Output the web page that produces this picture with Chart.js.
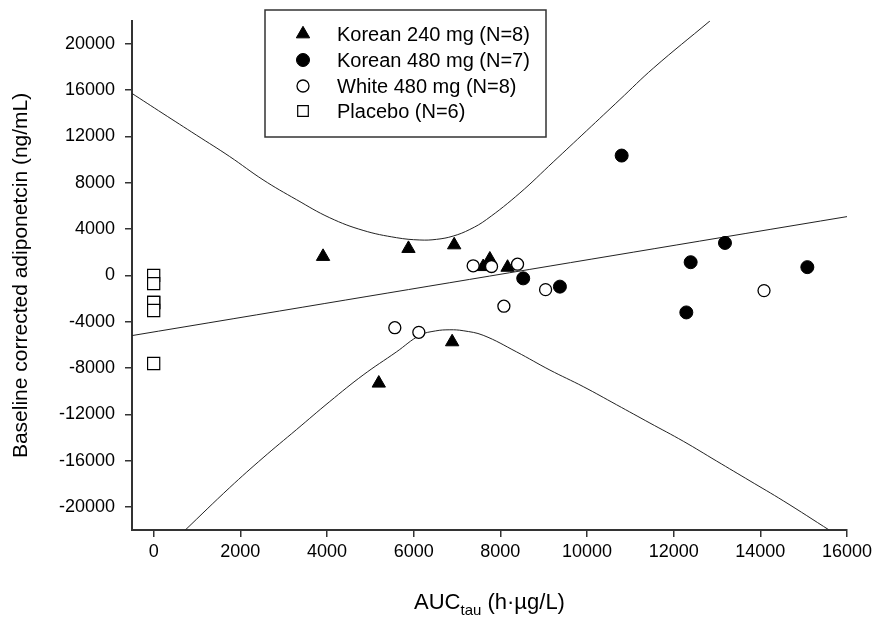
<!DOCTYPE html>
<html>
<head>
<meta charset="utf-8">
<script src="https://cdn.jsdelivr.net/npm/chart.js@4/dist/chart.umd.min.js"></script>
<style>
  body { margin: 0; background: #fff; }
  canvas { display: block; }
</style>
</head>
<body>
<canvas id="myChart" width="877" height="624"></canvas>
<script>
// values
const k240X = [3909, 5880, 6935, 7604, 7758, 8167, 5195, 6888];
const k240Y = [1630, 2317, 2630, 750, 1400, 690, -9320, -5750];

const k480X = [10800, 13184, 12392, 15085, 12292, 8528, 9375];
const k480Y = [10355, 2805, 1140, 715, -3200, -257, -970];

const w480X = [5565, 6119, 7373, 7797, 8397, 8082, 9044, 14085];
const w480Y = [-4520, -4920, 830, 770, 970, -2660, -1230, -1315];

const placeboX = [0, 0, 0, 0, 0, 0];
const placeboY = [0, -710, -2340, -2340, -3030, -7610];

// regression line end points
const fitX = [-500, 16000];
const fitY = [-5200, 5080];

// upper and lower band
const upperX = [-515, 215, 986, 1755, 2524, 3294, 4064, 4833, 5603, 6142, 6527, 6912, 7296, 7682, 8451, 9220, 9991, 10760, 11529, 12838];
const upperY = [15760, 13985, 12125, 10270, 8260, 6550, 4980, 3890, 3260, 3060, 3115, 3400, 3970, 4830, 7120, 9800, 12500, 15200, 17900, 21990];

const lowerX = [716, 1755, 2524, 3294, 4064, 4833, 5603, 6142, 6500, 6835, 7142, 7604, 8375, 9144, 9913, 10684, 11453, 12222, 12992, 13762, 14531, 15609];
const lowerY = [-22050, -18335, -15760, -13330, -10900, -8610, -6610, -5175, -4800, -4700, -4780, -5175, -6610, -8180, -9610, -11180, -12760, -14330, -16045, -17760, -19480, -22050];

const xTicks = [0, 2000, 4000, 6000, 8000, 10000, 12000, 14000, 16000];
const yTicks = [-20000, -16000, -12000, -8000, -4000, 0, 4000, 8000, 12000, 16000, 20000];

const labels = ['Korean 240 mg (N=8)', 'Korean 480 mg (N=7)', 'White 480 mg (N=8)', 'Placebo (N=6)'];

const pts = (xs, ys) => xs.map((x, i) => ({x: x, y: ys[i]}));
const FONT = "Arial, 'Liberation Sans', sans-serif";
const AXIS = '#333333';

function curve(xs, ys) {
    return {
        type: 'line', data: pts(xs, ys), showLine: true, pointRadius: 0,
        borderColor: '#222', borderWidth: 1, tension: 0.4,
        fill: false, order: 10
    };
}

const markers = [
    {label: labels[0], data: pts(k240X, k240Y), pointStyle: 'triangle', pointRadius: 7.7,
     backgroundColor: '#000', borderColor: '#000', borderWidth: 1, order: 4},
    {label: labels[1], data: pts(k480X, k480Y), pointStyle: 'circle', pointRadius: 6.5,
     backgroundColor: '#000', borderColor: '#000', borderWidth: 1, order: 3},
    {label: labels[2], data: pts(w480X, w480Y), pointStyle: 'circle', pointRadius: 6,
     backgroundColor: '#fff', borderColor: '#000', borderWidth: 1.3, order: 2},
    {label: labels[3], data: pts(placeboX, placeboY), pointStyle: 'rect', pointRadius: 8.6,
     backgroundColor: '#fff', borderColor: '#000', borderWidth: 1.2, order: 1}
];

// legend box and axis titles (AUC has a subscript, so drawn by hand)
const overlay = {
    id: 'overlay',
    afterDraw(chart) {
        const ctx = chart.ctx;
        const area = chart.chartArea;
        ctx.save();

        // legend
        const bx = 265, by = 10, bw = 281, bh = 127;
        ctx.fillStyle = '#fff';
        ctx.fillRect(bx, by, bw, bh);
        ctx.strokeStyle = AXIS;
        ctx.lineWidth = 1.5;
        ctx.strokeRect(bx, by, bw, bh);
        const rows = [34, 60, 86, 111];
        markers.forEach((ds, i) => {
            ctx.fillStyle = ds.backgroundColor;
            ctx.strokeStyle = ds.borderColor;
            ctx.lineWidth = ds.borderWidth;
            const r = ds.pointStyle === 'rect' ? 7.5 : ds.pointRadius;
            Chart.helpers.drawPoint(ctx, {pointStyle: ds.pointStyle, radius: r, rotation: 0, borderWidth: ds.borderWidth}, 303, rows[i]);
            ctx.fillStyle = '#000';
            ctx.font = '20px ' + FONT;
            ctx.textBaseline = 'middle';
            ctx.textAlign = 'left';
            ctx.fillText(ds.label, 337, rows[i] + 1);
        });

        // y title
        ctx.fillStyle = '#000';
        ctx.font = '21px ' + FONT;
        ctx.textAlign = 'center';
        ctx.textBaseline = 'middle';
        ctx.translate(21, (area.top + area.bottom) / 2);
        ctx.rotate(-Math.PI / 2);
        ctx.fillText('Baseline corrected adiponetcin (ng/mL)', 0, 0);
        ctx.restore();

        // x title
        ctx.save();
        ctx.fillStyle = '#000';
        ctx.textBaseline = 'alphabetic';
        ctx.textAlign = 'left';
        const main = 'AUC', sub = 'tau', rest = ' (h\u00B7\u00B5g/L)';
        ctx.font = '22px ' + FONT;
        const w1 = ctx.measureText(main).width;
        const w3 = ctx.measureText(rest).width;
        ctx.font = '15px ' + FONT;
        const w2 = ctx.measureText(sub).width;
        let x = (area.left + area.right) / 2 - (w1 + w2 + w3) / 2;
        const base = 609;
        ctx.font = '22px ' + FONT;
        ctx.fillText(main, x, base);
        x += w1;
        ctx.font = '15px ' + FONT;
        ctx.fillText(sub, x, base + 6);
        x += w2;
        ctx.font = '22px ' + FONT;
        ctx.fillText(rest, x, base);
        ctx.restore();
    }
};

new Chart('myChart', {
    type: 'scatter',
    data: {
        datasets: [
            ...markers,
            curve(fitX, fitY),
            curve(upperX, upperY),
            curve(lowerX, lowerY)
        ]
    },
    options: {
        responsive: false,
        animation: false,
        layout: {padding: {top: 16, right: 30, left: 0, bottom: 0}},
        plugins: {legend: {display: false}, tooltip: {enabled: false}},
        scales: {
            x: {
                type: 'linear', min: -500, max: 16000,
                afterBuildTicks: s => { s.ticks = xTicks.map(v => ({value: v})); },
                afterFit: s => { s.height = 94; },
                border: {display: true, color: AXIS, width: 2},
                grid: {drawOnChartArea: false, drawTicks: true, tickLength: 7, color: AXIS, lineWidth: 1.5},
                ticks: {color: '#000', font: {family: FONT, size: 18}, padding: 4, maxRotation: 0, callback: v => String(v)}
            },
            y: {
                type: 'linear', min: -22000, max: 22000,
                afterBuildTicks: s => { s.ticks = yTicks.map(v => ({value: v})); },
                afterFit: s => { s.width = 132; },
                border: {display: true, color: AXIS, width: 2},
                grid: {drawOnChartArea: false, drawTicks: true, tickLength: 7, color: AXIS, lineWidth: 1.5},
                ticks: {color: '#000', font: {family: FONT, size: 18}, padding: 10, callback: v => String(v)}
            }
        }
    },
    plugins: [overlay]
});
</script>
</body>
</html>
